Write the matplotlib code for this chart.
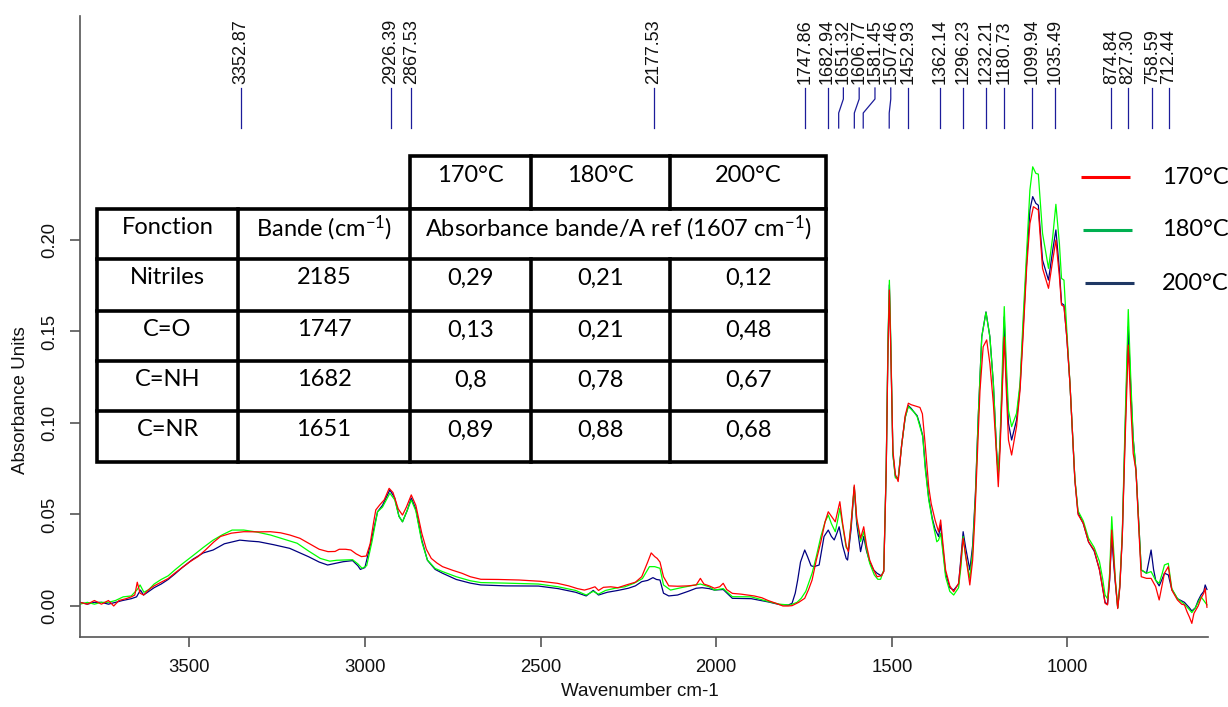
import numpy as np
import matplotlib
matplotlib.use("Agg")
import matplotlib.pyplot as plt

plt.rcParams['mathtext.default'] = 'regular'

# ---------------- data ----------------
series_labels = ["170°C", "180°C", "200°C"]

# (wavenumber cm-1, absorbance)
spec_170 = np.array([
    (3811, 0.002), (3790, 0.001), (3770, 0.003), (3750, 0.001), (3730, 0.003), (3715, 0.000),
    (3700, 0.003), (3680, 0.004), (3665, 0.005), (3655, 0.006), (3648, 0.013), (3640, 0.007),
    (3630, 0.006), (3615, 0.009), (3600, 0.011), (3585, 0.0125), (3560, 0.015), (3541, 0.018),
    (3520, 0.021), (3498, 0.0242), (3475, 0.027), (3454, 0.0306), (3430, 0.035), (3411, 0.038),
    (3380, 0.0398), (3345, 0.0406), (3300, 0.0405), (3269, 0.0406), (3240, 0.040), (3214, 0.0388),
    (3185, 0.037), (3160, 0.0343), (3130, 0.031), (3105, 0.0297), (3085, 0.0298), (3073, 0.031),
    (3055, 0.031), (3040, 0.0306), (3025, 0.0285), (3010, 0.027), (2996, 0.0273), (2985, 0.034),
    (2975, 0.046), (2969, 0.0525), (2958, 0.0552), (2945, 0.058), (2931, 0.0643), (2920, 0.062),
    (2905, 0.053), (2893, 0.0497), (2882, 0.054), (2868, 0.0607), (2855, 0.055), (2838, 0.0397),
    (2825, 0.031), (2811, 0.026), (2795, 0.0235), (2779, 0.0215), (2750, 0.0195), (2724, 0.0179),
    (2700, 0.016), (2670, 0.0146), (2620, 0.0145), (2561, 0.0142), (2500, 0.0135), (2452, 0.0124),
    (2420, 0.011), (2395, 0.0095), (2375, 0.0087), (2360, 0.0095), (2345, 0.0105), (2335, 0.0085),
    (2321, 0.0102), (2300, 0.0105), (2280, 0.010), (2256, 0.0115), (2230, 0.013), (2212, 0.016),
    (2195, 0.024), (2185, 0.029), (2175, 0.027), (2168, 0.026), (2160, 0.024), (2150, 0.016),
    (2135, 0.011), (2110, 0.0108), (2080, 0.011), (2057, 0.0115), (2045, 0.0151), (2035, 0.012),
    (2020, 0.011), (2005, 0.0097), (1990, 0.0105), (1980, 0.0124), (1970, 0.009), (1954, 0.0069),
    (1930, 0.0065), (1910, 0.006), (1892, 0.0055), (1870, 0.0045), (1851, 0.0029), (1830, 0.0015),
    (1810, 0.0000), (1795, 0.000), (1784, 0.0002), (1765, 0.002), (1748, 0.0042), (1737, 0.009),
    (1727, 0.0142), (1715, 0.025), (1702, 0.0351), (1690, 0.046), (1681, 0.0515), (1672, 0.049),
    (1661, 0.046), (1654, 0.052), (1648, 0.057), (1640, 0.045), (1630, 0.033), (1624, 0.0297),
    (1616, 0.045), (1607, 0.0661), (1600, 0.048), (1589, 0.037), (1580, 0.0433), (1572, 0.033),
    (1563, 0.0251), (1550, 0.019), (1542, 0.016), (1530, 0.0165), (1523, 0.0188), (1516, 0.074),
    (1511, 0.14), (1507, 0.1727), (1503, 0.14), (1497, 0.085), (1490, 0.072), (1482, 0.068),
    (1472, 0.088), (1462, 0.104), (1453, 0.1108), (1445, 0.110), (1437, 0.1095), (1428, 0.109),
    (1420, 0.1085), (1413, 0.105), (1405, 0.088), (1395, 0.065), (1388, 0.056), (1377, 0.047),
    (1367, 0.0406), (1361, 0.047), (1355, 0.035), (1347, 0.0197), (1335, 0.011), (1324, 0.0078),
    (1310, 0.0124), (1303, 0.025), (1297, 0.037), (1290, 0.028), (1278, 0.0115), (1270, 0.025),
    (1264, 0.047), (1258, 0.075), (1249, 0.118), (1240, 0.1417), (1230, 0.1454), (1221, 0.1326),
    (1211, 0.1107), (1204, 0.089), (1197, 0.0652), (1192, 0.085), (1185, 0.1217), (1180, 0.147),
    (1175, 0.1217), (1168, 0.0907), (1159, 0.0825), (1145, 0.098), (1135, 0.118), (1126, 0.149),
    (1116, 0.1855), (1107, 0.209), (1097, 0.2182), (1090, 0.2173), (1083, 0.2164), (1071, 0.1845),
    (1054, 0.1736), (1042, 0.189), (1033, 0.200), (1023, 0.180), (1017, 0.1645), (1010, 0.1636),
    (1002, 0.147), (993, 0.1217), (979, 0.069), (970, 0.050), (955, 0.0452), (940, 0.035),
    (924, 0.0306), (909, 0.0197), (900, 0.010), (893, 0.0015), (886, 0.0006), (880, 0.015),
    (874, 0.0415), (868, 0.025), (864, 0.0142), (857, -0.0014), (851, 0.010), (844, 0.038),
    (836, 0.090), (827, 0.1426), (820, 0.11), (813, 0.0834), (805, 0.074), (799, 0.050),
    (790, 0.016), (775, 0.0151), (762, 0.0151), (749, 0.0106), (739, 0.0033), (730, 0.012),
    (724, 0.0179), (713, 0.0215), (703, 0.0087), (687, 0.0033), (675, 0.001), (667, 0.0006),
    (660, -0.003), (653, -0.006), (646, -0.0095), (640, -0.004), (636, -0.0027), (628, 0.0),
    (620, 0.0042), (612, 0.007), (608, 0.0097), (603, -0.0007),
])

spec_180 = np.array([
    (3811, 0.001), (3790, 0.002), (3770, 0.001), (3750, 0.002), (3730, 0.002), (3710, 0.003),
    (3688, 0.005), (3665, 0.0055), (3648, 0.009), (3640, 0.0115), (3629, 0.0075), (3615, 0.009),
    (3600, 0.012), (3580, 0.0145), (3560, 0.0165), (3541, 0.0197), (3520, 0.023), (3487, 0.0279),
    (3460, 0.032), (3432, 0.036), (3405, 0.039), (3378, 0.0415), (3345, 0.0415), (3310, 0.0405),
    (3269, 0.0388), (3230, 0.0365), (3193, 0.0343), (3160, 0.030), (3127, 0.026), (3100, 0.0245),
    (3080, 0.025), (3062, 0.0251), (3035, 0.0253), (3020, 0.023), (3008, 0.0206), (2995, 0.022),
    (2980, 0.035), (2964, 0.0515), (2950, 0.054), (2929, 0.0616), (2915, 0.058), (2903, 0.049),
    (2893, 0.046), (2880, 0.052), (2868, 0.0579), (2855, 0.052), (2838, 0.035), (2822, 0.0251),
    (2800, 0.0205), (2779, 0.0188), (2740, 0.016), (2700, 0.0138), (2670, 0.0128), (2600, 0.0125),
    (2506, 0.012), (2450, 0.0105), (2400, 0.0085), (2370, 0.006), (2350, 0.008), (2335, 0.0065),
    (2315, 0.0085), (2288, 0.0097), (2260, 0.0105), (2234, 0.0124), (2210, 0.015), (2190, 0.0215),
    (2175, 0.0215), (2160, 0.0206), (2150, 0.0115), (2130, 0.0087), (2100, 0.010), (2060, 0.0115),
    (2045, 0.012), (2020, 0.0105), (2005, 0.0087), (1980, 0.0095), (1954, 0.0051), (1900, 0.005),
    (1851, 0.0024), (1820, 0.001), (1790, 0.0005), (1770, 0.002), (1758, 0.0042), (1745, 0.008),
    (1727, 0.0179), (1715, 0.027), (1702, 0.038), (1690, 0.046), (1681, 0.0497), (1672, 0.045),
    (1661, 0.0406), (1654, 0.047), (1648, 0.0534), (1640, 0.044), (1630, 0.032), (1624, 0.0306),
    (1616, 0.045), (1607, 0.065), (1600, 0.047), (1589, 0.0352), (1580, 0.0406), (1572, 0.031),
    (1563, 0.0233), (1550, 0.017), (1540, 0.0146), (1532, 0.0146), (1523, 0.0197), (1516, 0.076),
    (1511, 0.145), (1507, 0.178), (1503, 0.145), (1497, 0.083), (1490, 0.070), (1482, 0.0698),
    (1472, 0.088), (1462, 0.103), (1453, 0.109), (1445, 0.1075), (1437, 0.106), (1428, 0.1035),
    (1420, 0.098), (1412, 0.0925), (1405, 0.075), (1395, 0.058), (1385, 0.047), (1372, 0.0351),
    (1367, 0.036), (1361, 0.0397), (1355, 0.030), (1347, 0.016), (1335, 0.008), (1324, 0.006),
    (1310, 0.010), (1303, 0.022), (1297, 0.038), (1290, 0.027), (1278, 0.0151), (1270, 0.030),
    (1262, 0.060), (1254, 0.1035), (1244, 0.1472), (1232, 0.1605), (1221, 0.1472), (1211, 0.1217),
    (1202, 0.0852), (1197, 0.0716), (1192, 0.0907), (1185, 0.1326), (1180, 0.1636), (1175, 0.1362),
    (1168, 0.107), (1159, 0.098), (1145, 0.1053), (1135, 0.1217), (1126, 0.158), (1116, 0.1945),
    (1107, 0.2273), (1099, 0.240), (1090, 0.2364), (1083, 0.236), (1071, 0.2036), (1054, 0.1845),
    (1042, 0.2018), (1033, 0.2195), (1023, 0.198), (1017, 0.179), (1010, 0.1781), (1002, 0.1508),
    (993, 0.1217), (979, 0.0698), (970, 0.052), (955, 0.0465), (940, 0.037), (924, 0.032),
    (909, 0.0243), (900, 0.015), (893, 0.006), (886, 0.004), (880, 0.018), (874, 0.0488),
    (868, 0.028), (864, 0.015), (857, -0.001), (851, 0.012), (844, 0.040), (836, 0.100),
    (827, 0.162), (820, 0.125), (813, 0.0916), (805, 0.074), (799, 0.052), (790, 0.0197),
    (775, 0.0179), (762, 0.0188), (749, 0.014), (739, 0.0124), (730, 0.018), (724, 0.0224),
    (713, 0.0233), (703, 0.0095), (687, 0.004), (667, 0.001), (653, -0.002), (646, -0.0036),
    (636, -0.001), (628, 0.002), (620, 0.005), (612, 0.003), (603, 0.0006),
])

spec_200 = np.array([
    (3811, 0.002), (3790, 0.001), (3770, 0.002), (3750, 0.002), (3730, 0.001), (3710, 0.002),
    (3690, 0.003), (3665, 0.004), (3650, 0.005), (3639, 0.0087), (3630, 0.006), (3615, 0.008),
    (3600, 0.010), (3580, 0.012), (3560, 0.0145), (3541, 0.0175), (3520, 0.021), (3490, 0.0255),
    (3460, 0.029), (3432, 0.0306), (3400, 0.034), (3356, 0.036), (3330, 0.0355), (3302, 0.0351),
    (3260, 0.0335), (3214, 0.0315), (3185, 0.029), (3160, 0.0269), (3130, 0.024), (3106, 0.0224),
    (3080, 0.0235), (3062, 0.0242), (3035, 0.0248), (3020, 0.022), (3013, 0.020), (3000, 0.021),
    (2985, 0.033), (2964, 0.0515), (2950, 0.055), (2929, 0.0634), (2915, 0.059), (2903, 0.049),
    (2893, 0.046), (2880, 0.052), (2868, 0.059), (2855, 0.053), (2838, 0.036), (2822, 0.025),
    (2800, 0.020), (2779, 0.0179), (2740, 0.0145), (2700, 0.0125), (2670, 0.0115), (2600, 0.011),
    (2506, 0.0109), (2450, 0.0095), (2400, 0.0075), (2370, 0.0055), (2350, 0.0085), (2335, 0.006),
    (2310, 0.0075), (2280, 0.0085), (2250, 0.0097), (2230, 0.011), (2212, 0.0133), (2195, 0.014),
    (2180, 0.0155), (2170, 0.0145), (2160, 0.0142), (2150, 0.007), (2135, 0.0055), (2110, 0.006),
    (2080, 0.008), (2057, 0.0097), (2040, 0.010), (2020, 0.0095), (2005, 0.0087), (1980, 0.009),
    (1954, 0.0042), (1900, 0.004), (1851, 0.0022), (1820, 0.0008), (1795, 0.0005), (1784, 0.0015),
    (1775, 0.007), (1768, 0.0142), (1760, 0.024), (1748, 0.0306), (1740, 0.027), (1730, 0.022),
    (1722, 0.0215), (1707, 0.0224), (1693, 0.038), (1681, 0.0415), (1672, 0.038), (1664, 0.0361),
    (1656, 0.040), (1650, 0.0433), (1640, 0.033), (1630, 0.026), (1626, 0.0251), (1616, 0.042),
    (1607, 0.065), (1600, 0.045), (1589, 0.0297), (1580, 0.038), (1572, 0.030), (1563, 0.0242),
    (1552, 0.0197), (1542, 0.0179), (1530, 0.0165), (1523, 0.019), (1516, 0.075), (1511, 0.142),
    (1507, 0.1755), (1503, 0.142), (1497, 0.083), (1490, 0.071), (1482, 0.0695), (1472, 0.088),
    (1462, 0.103), (1453, 0.1095), (1445, 0.108), (1437, 0.106), (1428, 0.104), (1420, 0.099),
    (1412, 0.093), (1405, 0.077), (1395, 0.059), (1385, 0.048), (1377, 0.042), (1367, 0.038),
    (1361, 0.0443), (1355, 0.032), (1347, 0.018), (1335, 0.010), (1324, 0.0087), (1310, 0.012),
    (1303, 0.027), (1297, 0.0406), (1290, 0.032), (1278, 0.0197), (1270, 0.033), (1262, 0.062),
    (1254, 0.1035), (1244, 0.1472), (1232, 0.1607), (1221, 0.1472), (1211, 0.1217), (1202, 0.0852),
    (1197, 0.0716), (1192, 0.0889), (1185, 0.1253), (1180, 0.158), (1175, 0.129), (1168, 0.0998),
    (1159, 0.0907), (1145, 0.1016), (1135, 0.1199), (1126, 0.1526), (1116, 0.189), (1107, 0.2164),
    (1099, 0.2237), (1090, 0.220), (1083, 0.219), (1071, 0.189), (1054, 0.1781), (1042, 0.1945),
    (1033, 0.2055), (1023, 0.1836), (1017, 0.1654), (1010, 0.1645), (1002, 0.147), (993, 0.1217),
    (979, 0.069), (970, 0.051), (955, 0.045), (940, 0.035), (924, 0.030), (909, 0.020),
    (900, 0.010), (893, 0.002), (886, 0.001), (880, 0.014), (874, 0.038), (868, 0.022),
    (864, 0.013), (857, -0.001), (851, 0.011), (844, 0.038), (836, 0.095), (827, 0.1526),
    (820, 0.12), (813, 0.0916), (805, 0.074), (799, 0.052), (790, 0.0197), (775, 0.0179),
    (762, 0.0306), (755, 0.020), (749, 0.0142), (739, 0.011), (730, 0.015), (724, 0.0179),
    (713, 0.017), (703, 0.009), (687, 0.004), (667, 0.002), (653, -0.001), (646, -0.0027),
    (636, -0.001), (628, 0.003), (620, 0.006), (612, 0.008), (608, 0.0115), (603, 0.009),
])

peak_positions = [3352.87, 2926.39, 2867.53, 2177.53, 1747.86, 1682.94, 1651.32, 1606.77,
                  1581.45, 1507.46, 1452.93, 1362.14, 1296.23, 1232.21, 1180.73, 1099.94,
                  1035.49, 874.84, 827.30, 758.59, 712.44]

x_ticks = [3500, 3000, 2500, 2000, 1500, 1000]
y_ticks = [0.00, 0.05, 0.10, 0.15, 0.20]

table_header_temps = ["170°C", "180°C", "200°C"]
table_col_heads = ["Fonction", "Bande (cm$^{-1}$)", "Absorbance bande/A ref (1607 cm$^{-1}$)"]
table_fonction = ["Nitriles", "C=O", "C=NH", "C=NR"]
table_bande = ["2185", "1747", "1682", "1651"]
table_170 = ["0,29", "0,13", "0,8", "0,89"]
table_180 = ["0,21", "0,21", "0,78", "0,88"]
table_200 = ["0,12", "0,48", "0,67", "0,68"]

# ---------------- figure ----------------
W, H = 1228, 707
fig = plt.figure(figsize=(W / 100, H / 100), dpi=100)
fig.patch.set_facecolor("white")

ax = fig.add_axes([80 / W, (H - 637) / H, (1208 - 80) / W, (637 - 16) / H])
ax.plot(spec_200[:, 0], spec_200[:, 1], color="#000080", lw=0.9)
ax.plot(spec_180[:, 0], spec_180[:, 1], color="#00FF00", lw=0.9)
ax.plot(spec_170[:, 0], spec_170[:, 1], color="#FF0000", lw=0.9)
ax.set_xlim(3811, 600)
ax.set_ylim(-0.01694, 0.3224)
ax.set_xticks(x_ticks)
ax.set_xticklabels([str(t) for t in x_ticks])
ax.set_yticks(y_ticks)
ax.set_yticklabels(["%.2f" % t for t in y_ticks])
for s in ("top", "right"):
    ax.spines[s].set_visible(False)
for s in ("left", "bottom"):
    ax.spines[s].set_color("#555555")
    ax.spines[s].set_linewidth(1.2)
ax.tick_params(axis="both", direction="out", length=7, width=1.2, color="#555555",
               labelcolor="#111111", pad=9)
for lbl in ax.get_xticklabels():
    lbl.set_fontfamily("Liberation Sans"); lbl.set_fontsize(13.3)
for lbl in ax.get_yticklabels():
    lbl.set_fontfamily("Liberation Sans"); lbl.set_fontsize(13.3)
    lbl.set_rotation(90); lbl.set_va("center")

ax.set_xlabel("Wavenumber cm-1", family="Liberation Sans", fontsize=13.5, color="#111111")
ax.set_ylabel("Absorbance Units", family="Liberation Sans", fontsize=13.5, color="#111111")
ax.xaxis.set_label_coords((640 - 80) / 1128, (637 - 692) / 621)
ax.xaxis.label.set(va="center", ha="center")
ax.yaxis.set_label_coords((21 - 80) / 1128, (637 - 400) / 621)
ax.yaxis.label.set(va="center", ha="center", rotation_mode="anchor")

# overlay in pixel coordinates (top-left origin)
ov = fig.add_axes([0, 0, 1, 1], zorder=5)
ov.set_xlim(0, W)
ov.set_ylim(H, 0)
ov.axis("off")
ov.patch.set_alpha(0)

# peak labels
px = [ax.transData.transform((p, 0))[0] for p in peak_positions]
order = np.argsort(px)
label_x = {}
prev = -1e9
min_gap = 15.8
for i in order:
    lx = max(px[i], prev + min_gap)
    label_x[i] = lx
    prev = lx
peak_col = "#1C1C9A"
for i, p in enumerate(peak_positions):
    lx, x0 = label_x[i], px[i]
    if abs(lx - x0) < 1.5:
        ov.plot([x0, x0], [88, 128], color=peak_col, lw=0.9)
    else:
        ov.plot([lx, lx, x0, x0], [88, 99, 113, 128], color=peak_col, lw=0.9)
    ov.text(lx, 84, "%.2f" % p, rotation=90, ha="center", va="bottom",
            family="Liberation Sans", fontsize=13, color="#111111")

# table
tf = dict(family="Lato", fontsize=17, color="black", ha="center", va="center")
lw_t = 2.6
col_x = [97, 238, 410, 531, 670, 826]
row_y = [156, 209, 259, 311, 361, 411, 462]
ov.add_patch(plt.Rectangle((col_x[2], row_y[0]), col_x[5] - col_x[2], row_y[1] - row_y[0],
                           fill=True, facecolor="white", edgecolor="black", lw=lw_t))
ov.add_patch(plt.Rectangle((col_x[0], row_y[1]), col_x[5] - col_x[0], row_y[6] - row_y[1],
                           fill=True, facecolor="white", edgecolor="black", lw=lw_t))
for xx in (col_x[3], col_x[4]):
    ov.plot([xx, xx], [row_y[0], row_y[1]], color="black", lw=lw_t)
    ov.plot([xx, xx], [row_y[2], row_y[6]], color="black", lw=lw_t)
for xx in (col_x[1], col_x[2]):
    ov.plot([xx, xx], [row_y[1], row_y[6]], color="black", lw=lw_t)
for yy in row_y[2:6]:
    ov.plot([col_x[0], col_x[5]], [yy, yy], color="black", lw=lw_t)

def cx(a, b):
    return (col_x[a] + col_x[b]) / 2

for j, t in enumerate(table_header_temps):
    ov.text(cx(2 + j, 3 + j), row_y[0] + 19, t, **tf)
ov.text(cx(0, 1), row_y[1] + 19, table_col_heads[0], **tf)
ov.text(cx(1, 2), row_y[1] + 19, table_col_heads[1], **tf)
ov.text(cx(2, 5), row_y[1] + 19, table_col_heads[2], **tf)
for r in range(4):
    yy = row_y[2 + r] + 19
    ov.text(cx(0, 1), yy, table_fonction[r], **tf)
    ov.text(cx(1, 2), yy, table_bande[r], **tf)
    ov.text(cx(2, 3), yy, table_170[r], **tf)
    ov.text(cx(3, 4), yy, table_180[r], **tf)
    ov.text(cx(4, 5), yy, table_200[r], **tf)

# legend
leg_colors = ["#FF0000", "#00B050", "#1F3864"]
leg_y = [177, 230, 283]
leg_x0 = [1081, 1083, 1085]
for lab, c, yy, x0 in zip(series_labels, leg_colors, leg_y, leg_x0):
    ov.plot([x0, x0 + 49], [yy, yy], color=c, lw=2.2, solid_capstyle="butt")
    ov.text(1162, yy, lab, family="Lato", fontsize=17, color="black", ha="left", va="center")

fig.savefig("out.png", dpi=100)
